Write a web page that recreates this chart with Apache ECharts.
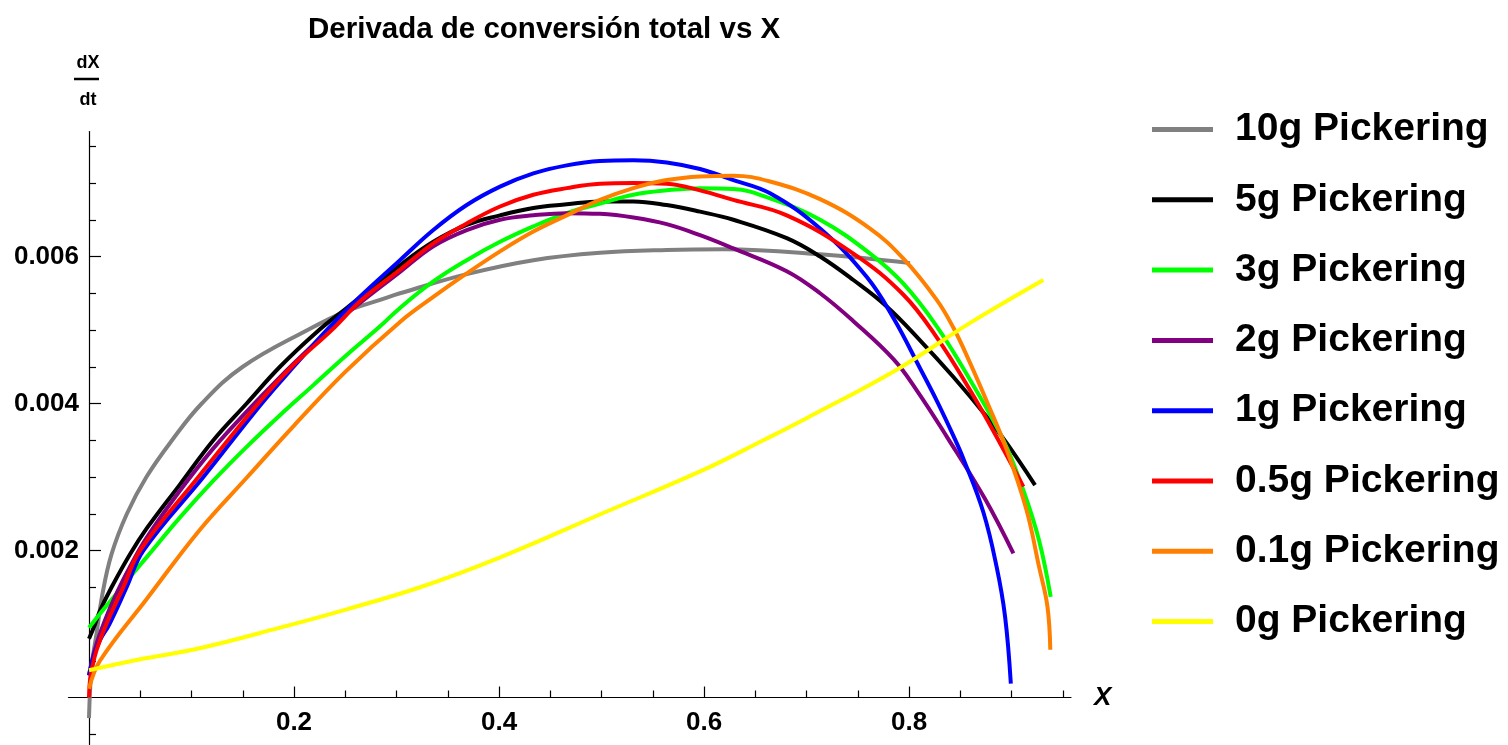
<!DOCTYPE html>
<html>
<head>
<meta charset="utf-8">
<script src="https://cdn.jsdelivr.net/npm/echarts@6/dist/echarts.min.js"></script>
<style>
  html, body { margin: 0; padding: 0; background: #fff; }
  #chart { width: 1508px; height: 745px; }
</style>
</head>
<body>
<div id="chart"></div>
<script>
// Conversion X and its rate dX/dt for each Pickering emulsifier loading
const names = ['10g Pickering', '5g Pickering', '3g Pickering', '2g Pickering',
               '1g Pickering', '0.5g Pickering', '0.1g Pickering', '0g Pickering'];
const colors = ['#808080', '#000000', '#00ff00', '#800080',
                '#0000ff', '#ff0000', '#ff8000', '#ffff00'];

const x10g = [0, 0.0026, 0.0075, 0.013, 0.022, 0.037, 0.056, 0.081, 0.11, 0.15, 0.216, 0.25, 0.284, 0.3034, 0.3685, 0.4335, 0.4985, 0.5636, 0.62, 0.713, 0.801];
const y10g = [-0.00028, 0.00042, 0.00088, 0.0014, 0.00195, 0.0025, 0.003, 0.0035, 0.004, 0.0045, 0.00502, 0.00525, 0.00541, 0.0055, 0.00576, 0.00595, 0.00605, 0.00609, 0.0061, 0.00603, 0.00591];

const x5g = [0, 0.006, 0.0107, 0.022, 0.04, 0.0563, 0.0888, 0.1213, 0.1538, 0.1863, 0.222, 0.2514, 0.3034, 0.3359, 0.3685, 0.401, 0.4335, 0.466, 0.4985, 0.5311, 0.5636, 0.5961, 0.6286, 0.6807, 0.7132, 0.7457, 0.7782, 0.8107, 0.8433, 0.8758, 0.8953, 0.9229];
const y5g = [0.0008, 0.001, 0.00118, 0.0015, 0.00195, 0.0023, 0.0029, 0.0035, 0.004, 0.0045, 0.00497, 0.0053, 0.00588, 0.0062, 0.00643, 0.00656, 0.00666, 0.00671, 0.00675, 0.00675, 0.0067, 0.00661, 0.0065, 0.00625, 0.006, 0.00568, 0.00532, 0.00486, 0.00436, 0.00382, 0.00346, 0.00289];

const x3g = [0, 0.0107, 0.0238, 0.04, 0.0563, 0.0888, 0.1213, 0.1538, 0.1863, 0.2189, 0.2514, 0.284, 0.3034, 0.3359, 0.3685, 0.401, 0.4335, 0.466, 0.4985, 0.5311, 0.5636, 0.5961, 0.6286, 0.6644, 0.7132, 0.762, 0.7945, 0.827, 0.8596, 0.8921, 0.9115, 0.9268, 0.9382];
const y3g = [0.00095, 0.00114, 0.00136, 0.00164, 0.00191, 0.00245, 0.00295, 0.00341, 0.00384, 0.00425, 0.00466, 0.00505, 0.0053, 0.00566, 0.00595, 0.0062, 0.00641, 0.00659, 0.00672, 0.00684, 0.0069, 0.00693, 0.00692, 0.00679, 0.0065, 0.00604, 0.00563, 0.00505, 0.00432, 0.0035, 0.00282, 0.00214, 0.00137];

const x2g = [0, 0.005, 0.012, 0.024, 0.04, 0.056, 0.089, 0.1213, 0.1538, 0.1863, 0.2189, 0.2514, 0.3034, 0.3359, 0.3685, 0.401, 0.4335, 0.466, 0.4985, 0.5311, 0.5636, 0.5961, 0.6286, 0.6807, 0.7132, 0.7457, 0.785, 0.8075, 0.8368, 0.8742, 0.9018];
const y2g = [0.0003, 0.00062, 0.00092, 0.00133, 0.00178, 0.00217, 0.00282, 0.00339, 0.00389, 0.00436, 0.0048, 0.00522, 0.00579, 0.00614, 0.00636, 0.0065, 0.00656, 0.00659, 0.00658, 0.00653, 0.00644, 0.00629, 0.00611, 0.0058, 0.0055, 0.00512, 0.0046, 0.00418, 0.00355, 0.0027, 0.00196];

const x1g = [0, 0.005, 0.0107, 0.02, 0.0367, 0.053, 0.1116, 0.1685, 0.2009, 0.2319, 0.2611, 0.3034, 0.3359, 0.3685, 0.401, 0.4335, 0.466, 0.4985, 0.5311, 0.5636, 0.5961, 0.6286, 0.6644, 0.7132, 0.7588, 0.7849, 0.8107, 0.827, 0.8433, 0.853, 0.8725, 0.8854, 0.8937, 0.8993];
const y1g = [0.0003, 0.00058, 0.00078, 0.001, 0.0015, 0.002, 0.003, 0.004, 0.00452, 0.005, 0.00541, 0.00595, 0.00636, 0.0067, 0.00695, 0.00713, 0.00724, 0.0073, 0.00731, 0.00728, 0.00719, 0.00704, 0.00686, 0.00638, 0.00572, 0.00516, 0.00448, 0.00404, 0.00356, 0.00325, 0.00252, 0.00178, 0.0011, 0.00019];

const x05g = [0, 0.001, 0.003, 0.0075, 0.017, 0.0335, 0.0498, 0.1067, 0.165, 0.1977, 0.2368, 0.266, 0.3034, 0.3359, 0.3685, 0.401, 0.4335, 0.466, 0.4985, 0.5311, 0.5636, 0.5961, 0.6286, 0.6807, 0.7457, 0.7945, 0.827, 0.8596, 0.8888, 0.9115];
const y05g = [0, 0.00024, 0.0004, 0.00065, 0.001, 0.0015, 0.002, 0.003, 0.004, 0.0045, 0.005, 0.00541, 0.00582, 0.00618, 0.00645, 0.00668, 0.00684, 0.00693, 0.00699, 0.007, 0.00699, 0.0069, 0.00677, 0.00656, 0.00604, 0.00548, 0.0049, 0.00418, 0.00346, 0.00287];

const x01g = [0, 0.0107, 0.0563, 0.108, 0.1538, 0.2, 0.25, 0.3034, 0.3359, 0.3685, 0.401, 0.4335, 0.466, 0.4985, 0.5311, 0.5636, 0.5961, 0.6286, 0.6644, 0.7132, 0.762, 0.7945, 0.827, 0.8433, 0.8596, 0.8758, 0.8953, 0.9146, 0.9268, 0.935, 0.9378];
const y01g = [0.00012, 0.0005, 0.00134, 0.00228, 0.00299, 0.0037, 0.00443, 0.00511, 0.00545, 0.00577, 0.00607, 0.00634, 0.00656, 0.00677, 0.00693, 0.00704, 0.00709, 0.0071, 0.00702, 0.00678, 0.00638, 0.00597, 0.00541, 0.00503, 0.00455, 0.00403, 0.00337, 0.00255, 0.00178, 0.00124, 0.00065];

const x0g = [0, 0.05, 0.108, 0.1863, 0.2514, 0.323, 0.4, 0.5, 0.6, 0.6578, 0.7, 0.788, 0.86, 0.931];
const y0g = [0.00037, 0.00052, 0.00067, 0.00095, 0.0012, 0.0015, 0.0019, 0.0025, 0.0031, 0.0035, 0.0038, 0.00446, 0.0051, 0.00568];

const xSeries = [x10g, x5g, x3g, x2g, x1g, x05g, x01g, x0g];
const ySeries = [y10g, y5g, y3g, y2g, y1g, y05g, y01g, y0g];

// Tick positions and labels
const xMajorTicks = [0.2, 0.4, 0.6, 0.8];
const xMinorTicks = [0.05, 0.1, 0.15, 0.25, 0.3, 0.35, 0.45, 0.5, 0.55, 0.65, 0.7, 0.75, 0.85, 0.9, 0.95];
const yMajorTicks = [0.002, 0.004, 0.006];
const yMinorTicks = [-0.0005, 0.0005, 0.001, 0.0015, 0.0025, 0.003, 0.0035, 0.0045, 0.005, 0.0055, 0.0065, 0.007, 0.0075];
const xTickLabels = ['0.2', '0.4', '0.6', '0.8'];
const yTickLabels = ['0.002', '0.004', '0.006'];

const FONT = '"Liberation Sans", Arial, Helvetica, sans-serif';
// full plotting range (axes cross at the origin)
const X_RANGE = [-0.02, 0.958];
const Y_RANGE = [-0.00064, 0.0077];

// plot frame in pixels
const PLOT_LEFT = 68.5, PLOT_TOP = 131.55, PLOT_W = 1002.5, PLOT_H = 613;
const xPx = PLOT_W / (X_RANGE[1] - X_RANGE[0]);
const yPx = PLOT_H / (Y_RANGE[1] - Y_RANGE[0]);
// origin of the frame, where the two axis lines cross
const ORIGIN_X = PLOT_LEFT - X_RANGE[0] * xPx;
const ORIGIN_Y = PLOT_TOP + Y_RANGE[1] * yPx;

function labelFor(ticks, labels) {
  return function (v) {
    for (let i = 0; i < ticks.length; i++) {
      if (Math.abs(ticks[i] - v) < 1e-9) return labels[i];
    }
    return '';
  };
}

const labelStyle = { color: '#000', fontSize: 26, fontWeight: 'bold', fontFamily: FONT };

// grid 0: the curves, axis lines through the origin and tick marks
function xLineAxis(major) {
  return {
    type: 'value', position: 'bottom', gridIndex: 0,
    min: X_RANGE[0], max: X_RANGE[1],
    axisLine: { show: true, onZero: true, onZeroAxisIndex: 0,
      lineStyle: { color: '#000', width: 1.2, opacity: major ? 1 : 0 } },
    axisTick: { show: true, inside: true, length: major ? 11 : 7,
      customValues: major ? xMajorTicks : xMinorTicks,
      lineStyle: { color: '#000', width: 1.2 } },
    axisLabel: { show: false },
    splitLine: { show: false },
    name: major ? 'X' : '',
    nameLocation: 'end', nameGap: 23,
    nameTextStyle: { color: '#000', fontSize: 26, fontWeight: 'bold', fontStyle: 'italic', fontFamily: FONT }
  };
}
function yLineAxis(major) {
  return {
    type: 'value', position: 'left', gridIndex: 0,
    min: Y_RANGE[0], max: Y_RANGE[1],
    axisLine: { show: true, onZero: true, onZeroAxisIndex: 0,
      lineStyle: { color: '#000', width: 1.2, opacity: major ? 1 : 0 } },
    axisTick: { show: true, inside: true, length: major ? 12 : 7,
      customValues: major ? yMajorTicks : yMinorTicks,
      lineStyle: { color: '#000', width: 1.2 } },
    axisLabel: { show: false },
    splitLine: { show: false }
  };
}

// grid 1: the positive quadrant, whose edges lie on the axis lines; it carries the tick labels
const xLabelAxis = {
  type: 'value', position: 'bottom', gridIndex: 1,
  min: 0, max: X_RANGE[1],
  axisLine: { show: false }, axisTick: { show: false }, splitLine: { show: false },
  axisLabel: Object.assign({ show: true, customValues: xMajorTicks,
    formatter: labelFor(xMajorTicks, xTickLabels), margin: 12 }, labelStyle)
};
const yLabelAxis = {
  type: 'value', position: 'left', gridIndex: 1,
  min: 0, max: Y_RANGE[1],
  axisLine: { show: false }, axisTick: { show: false }, splitLine: { show: false },
  axisLabel: Object.assign({ show: true, customValues: yMajorTicks,
    formatter: labelFor(yMajorTicks, yTickLabels), margin: 10 }, labelStyle)
};

const series = names.map(function (name, i) {
  const xs = xSeries[i], ys = ySeries[i];
  return {
    name: name,
    type: 'line',
    xAxisIndex: 0, yAxisIndex: 0,
    data: xs.map(function (x, k) { return [x, ys[k]]; }),
    color: colors[i],
    showSymbol: false,
    symbol: 'none',
    smooth: 0.4,
    lineStyle: { color: colors[i], width: 4, cap: 'butt' },
    emphasis: { disabled: true },
    silent: true,
    z: 2 + i
  };
});

const chart = echarts.init(document.getElementById('chart'), null, { renderer: 'canvas' });
chart.setOption({
  animation: false,
  backgroundColor: '#ffffff',
  title: {
    text: 'Derivada de conversión total vs X',
    left: 308, top: 15, padding: 0,
    textStyle: { color: '#000', fontSize: 29.5, fontWeight: 'bold', fontFamily: FONT }
  },
  grid: [
    { left: PLOT_LEFT, top: PLOT_TOP, width: PLOT_W, height: PLOT_H,
      containLabel: false, outerBoundsMode: 'none' },
    { left: ORIGIN_X, top: PLOT_TOP, width: PLOT_LEFT + PLOT_W - ORIGIN_X, height: ORIGIN_Y - PLOT_TOP,
      containLabel: false, outerBoundsMode: 'none' }
  ],
  xAxis: [xLineAxis(true), xLineAxis(false), xLabelAxis],
  yAxis: [yLineAxis(true), yLineAxis(false), yLabelAxis],
  legend: {
    orient: 'vertical',
    left: 1152, top: 110, padding: 0,
    icon: 'rect',
    itemWidth: 61, itemHeight: 5,
    itemGap: 31.3,
    selectedMode: false,
    textStyle: { color: '#000', fontSize: 39, fontWeight: 'bold', fontFamily: FONT, padding: [0, 0, 0, 17] },
    data: names
  },
  graphic: [
    { type: 'text', x: 88, y: 63, style: { text: 'dX', fill: '#000', font: 'bold 18px ' + FONT, align: 'center', verticalAlign: 'middle' } },
    { type: 'line', shape: { x1: 74, y1: 79, x2: 99, y2: 79 }, style: { stroke: '#000', lineWidth: 2.5 } },
    { type: 'text', x: 88, y: 100, style: { text: 'dt', fill: '#000', font: 'bold 18px ' + FONT, align: 'center', verticalAlign: 'middle' } }
  ],
  series: series
});
</script>
</body>
</html>
